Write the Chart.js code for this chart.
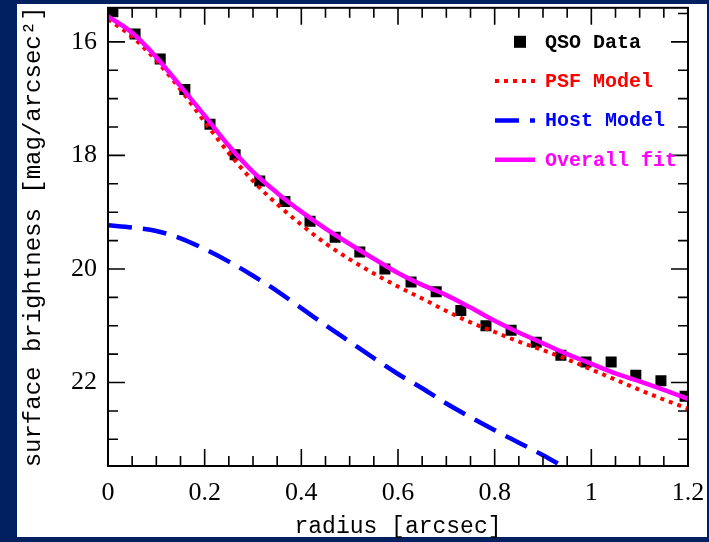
<!DOCTYPE html>
<html>
<head>
<meta charset="utf-8">
<script src="https://cdn.jsdelivr.net/npm/chart.js@4.4.1/dist/chart.umd.min.js"></script>
<style>
  html, body { margin: 0; padding: 0; background: #002060; overflow: hidden; }
  #panel { position: absolute; left: 17px; top: 4px; width: 690px; height: 533px; background: #ffffff; }
  #wrap { position: absolute; left: 0; top: 0; width: 709px; height: 542px; }
</style>
</head>
<body>
<div id="panel"></div>
<div id="wrap"><canvas id="profile" width="709" height="542"></canvas></div>
<script>
// QSO surface brightness profile
const qsoRadius = [0.01, 0.056, 0.108, 0.159, 0.211, 0.263, 0.314, 0.366, 0.418, 0.470, 0.521, 0.573,
                   0.627, 0.679, 0.730, 0.782, 0.834, 0.886, 0.937, 0.989, 1.041, 1.092, 1.144, 1.194];
const qsoMag = [15.47, 15.86, 16.30, 16.84, 17.45, 17.99, 18.45, 18.81, 19.16, 19.44, 19.70, 20.00,
                20.23, 20.40, 20.73, 21.00, 21.08, 21.29, 21.52, 21.64, 21.64, 21.87, 21.97, 22.24];

// model curves sampled every 0.05 arcsec
const modelRadius = [0, 0.05, 0.1, 0.15, 0.2, 0.25, 0.3, 0.35, 0.4, 0.45, 0.5, 0.55, 0.6,
                     0.65, 0.7, 0.75, 0.8, 0.85, 0.9, 0.95, 1.0, 1.05, 1.1, 1.15, 1.2];
const psfMag = [15.60, 15.91, 16.33, 16.84, 17.41, 17.96, 18.45, 18.86, 19.22, 19.55, 19.83, 20.08, 20.31,
                20.52, 20.74, 20.94, 21.11, 21.28, 21.43, 21.59, 21.77, 21.95, 22.13, 22.30, 22.46];
const hostMag = [19.23, 19.27, 19.33, 19.46, 19.65, 19.87, 20.12, 20.39, 20.69, 20.99, 21.28, 21.57, 21.85,
                 22.10, 22.37, 22.61, 22.84, 23.06, 23.28, 23.52];
const fitMag = [15.55, 15.84, 16.27, 16.78, 17.30, 17.83, 18.29, 18.66, 18.99, 19.29, 19.56, 19.82, 20.07,
                20.28, 20.46, 20.68, 20.91, 21.12, 21.31, 21.50, 21.67, 21.84, 21.98, 22.13, 22.29];

const xTickLabels = ["0", "0.2", "0.4", "0.6", "0.8", "1", "1.2"];
const yTickLabels = ["16", "18", "20", "22"];

function toPoints(xs, ys) {
  return ys.map((y, i) => ({ x: xs[i], y: y }));
}

function isMultiple(v, step) {
  const r = v / step;
  return Math.abs(r - Math.round(r)) < 1e-6;
}

// frame with inward ticks on all four sides
const frameTicks = {
  id: "frameTicks",
  afterDatasetsDraw(chart) {
    const { ctx, chartArea: a, scales } = chart;
    const xs = scales.x, ys = scales.y;
    ctx.save();
    ctx.strokeStyle = "#000";
    ctx.lineWidth = 2;
    ctx.strokeRect(a.left, a.top, a.right - a.left, a.bottom - a.top);
    ctx.lineWidth = 1.6;
    ctx.beginPath();
    for (let v = 0; v <= xs.max + 1e-9; v += 0.05) {
      const px = xs.getPixelForValue(v);
      const len = isMultiple(v, 0.2) ? 17 : 10;
      ctx.moveTo(px, a.bottom); ctx.lineTo(px, a.bottom - len);
      ctx.moveTo(px, a.top); ctx.lineTo(px, a.top + len);
    }
    for (let v = Math.ceil(ys.min / 0.5) * 0.5; v <= ys.max; v += 0.5) {
      const py = ys.getPixelForValue(v);
      const len = isMultiple(v, 2) ? 17 : 10;
      ctx.moveTo(a.left, py); ctx.lineTo(a.left + len, py);
      ctx.moveTo(a.right, py); ctx.lineTo(a.right - len, py);
    }
    ctx.stroke();
    ctx.restore();
  }
};

// legend in the upper right corner of the plot
const cornerLegend = {
  id: "cornerLegend",
  afterDraw(chart) {
    const { ctx, chartArea: a } = chart;
    const order = [3, 0, 1, 2];
    ctx.save();
    ctx.font = "bold 20px 'Liberation Mono'";
    ctx.textBaseline = "middle";
    order.forEach((idx, row) => {
      const ds = chart.data.datasets[idx];
      const y = a.top + 34 + row * 39.3;
      const x0 = a.right - 193, x1 = a.right - 153;
      if (ds.showLine) {
        ctx.strokeStyle = ds.borderColor;
        ctx.lineWidth = ds.borderWidth;
        ctx.setLineDash(ds.borderDash || []);
        ctx.beginPath();
        ctx.moveTo(x0, y);
        ctx.lineTo(x1, y);
        ctx.stroke();
        ctx.setLineDash([]);
        ctx.fillStyle = ds.borderColor;
      } else {
        ctx.fillStyle = ds.backgroundColor;
        ctx.fillRect(a.right - 174, y - 6, 12, 12);
      }
      ctx.fillText(ds.label, a.right - 143, y + 1);
    });
    ctx.restore();
  }
};

const context = document.getElementById("profile").getContext("2d");

new Chart(context, {
  type: "scatter",
  data: {
    datasets: [
      {
        label: "PSF Model",
        data: toPoints(modelRadius, psfMag),
        showLine: true,
        borderColor: "#ff0000",
        borderWidth: 4,
        borderDash: [4, 5],
        borderCapStyle: "butt",
        pointRadius: 0,
        cubicInterpolationMode: "monotone",
        clip: 0,
        order: 2,
      },
      {
        label: "Host Model",
        data: toPoints(modelRadius, hostMag),
        showLine: true,
        borderColor: "#0000ff",
        borderWidth: 4.5,
        borderDash: [24, 11],
        borderCapStyle: "butt",
        pointRadius: 0,
        cubicInterpolationMode: "monotone",
        clip: 0,
        order: 3,
      },
      {
        label: "Overall fit",
        data: toPoints(modelRadius, fitMag),
        showLine: true,
        borderColor: "#ff00ff",
        borderWidth: 4.5,
        pointRadius: 0,
        cubicInterpolationMode: "monotone",
        clip: 0,
        order: 1,
      },
      {
        label: "QSO Data",
        data: toPoints(qsoRadius, qsoMag),
        showLine: false,
        pointStyle: "rect",
        pointRadius: 7.8,
        backgroundColor: "#000000",
        borderWidth: 0,
        clip: 0,
        order: 4,
      },
    ],
  },
  options: {
    responsive: false,
    animation: false,
    events: [],
    layout: { padding: { top: 6, right: 21, left: 0, bottom: 0 } },
    plugins: {
      legend: { display: false },
      tooltip: { enabled: false },
    },
    scales: {
      x: {
        type: "linear",
        min: 0,
        max: 1.2,
        grid: { display: false, drawTicks: false },
        border: { display: false },
        afterFit(scale) {
          scale.height = 76;
          scale.paddingLeft = 0;
          scale.paddingRight = 0;
        },
        ticks: {
          stepSize: 0.05,
          autoSkip: false,
          maxRotation: 0,
          padding: 12,
          color: "#000",
          font: { family: "'Liberation Serif'", size: 26 },
          callback: (v) => isMultiple(v, 0.2) ? xTickLabels[Math.round(v / 0.2)] : "",
        },
        title: {
          display: true,
          text: "radius [arcsec]",
          color: "#000",
          font: { family: "'Liberation Mono'", size: 23, lineHeight: 1 },
          padding: { top: 0, bottom: 3.5 },
        },
      },
      y: {
        type: "linear",
        reverse: true,
        min: 15.4,
        max: 23.47,
        grid: { display: false, drawTicks: false },
        border: { display: false },
        afterFit(scale) {
          scale.width = 108;
          scale.paddingTop = 0;
          scale.paddingBottom = 0;
        },
        ticks: {
          stepSize: 0.5,
          autoSkip: false,
          padding: 11,
          color: "#000",
          font: { family: "'Liberation Serif'", size: 26 },
          callback: (v) => isMultiple(v, 2) ? yTickLabels[Math.round((v - 16) / 2)] : "",
        },
        title: {
          display: true,
          text: "surface brightness [mag/arcsec\u00b2]",
          color: "#000",
          font: { family: "'Liberation Mono'", size: 24, lineHeight: 1 },
          padding: { top: 21.5, bottom: 0 },
        },
      },
    },
  },
  plugins: [frameTicks, cornerLegend],
});
</script>
</body>
</html>
